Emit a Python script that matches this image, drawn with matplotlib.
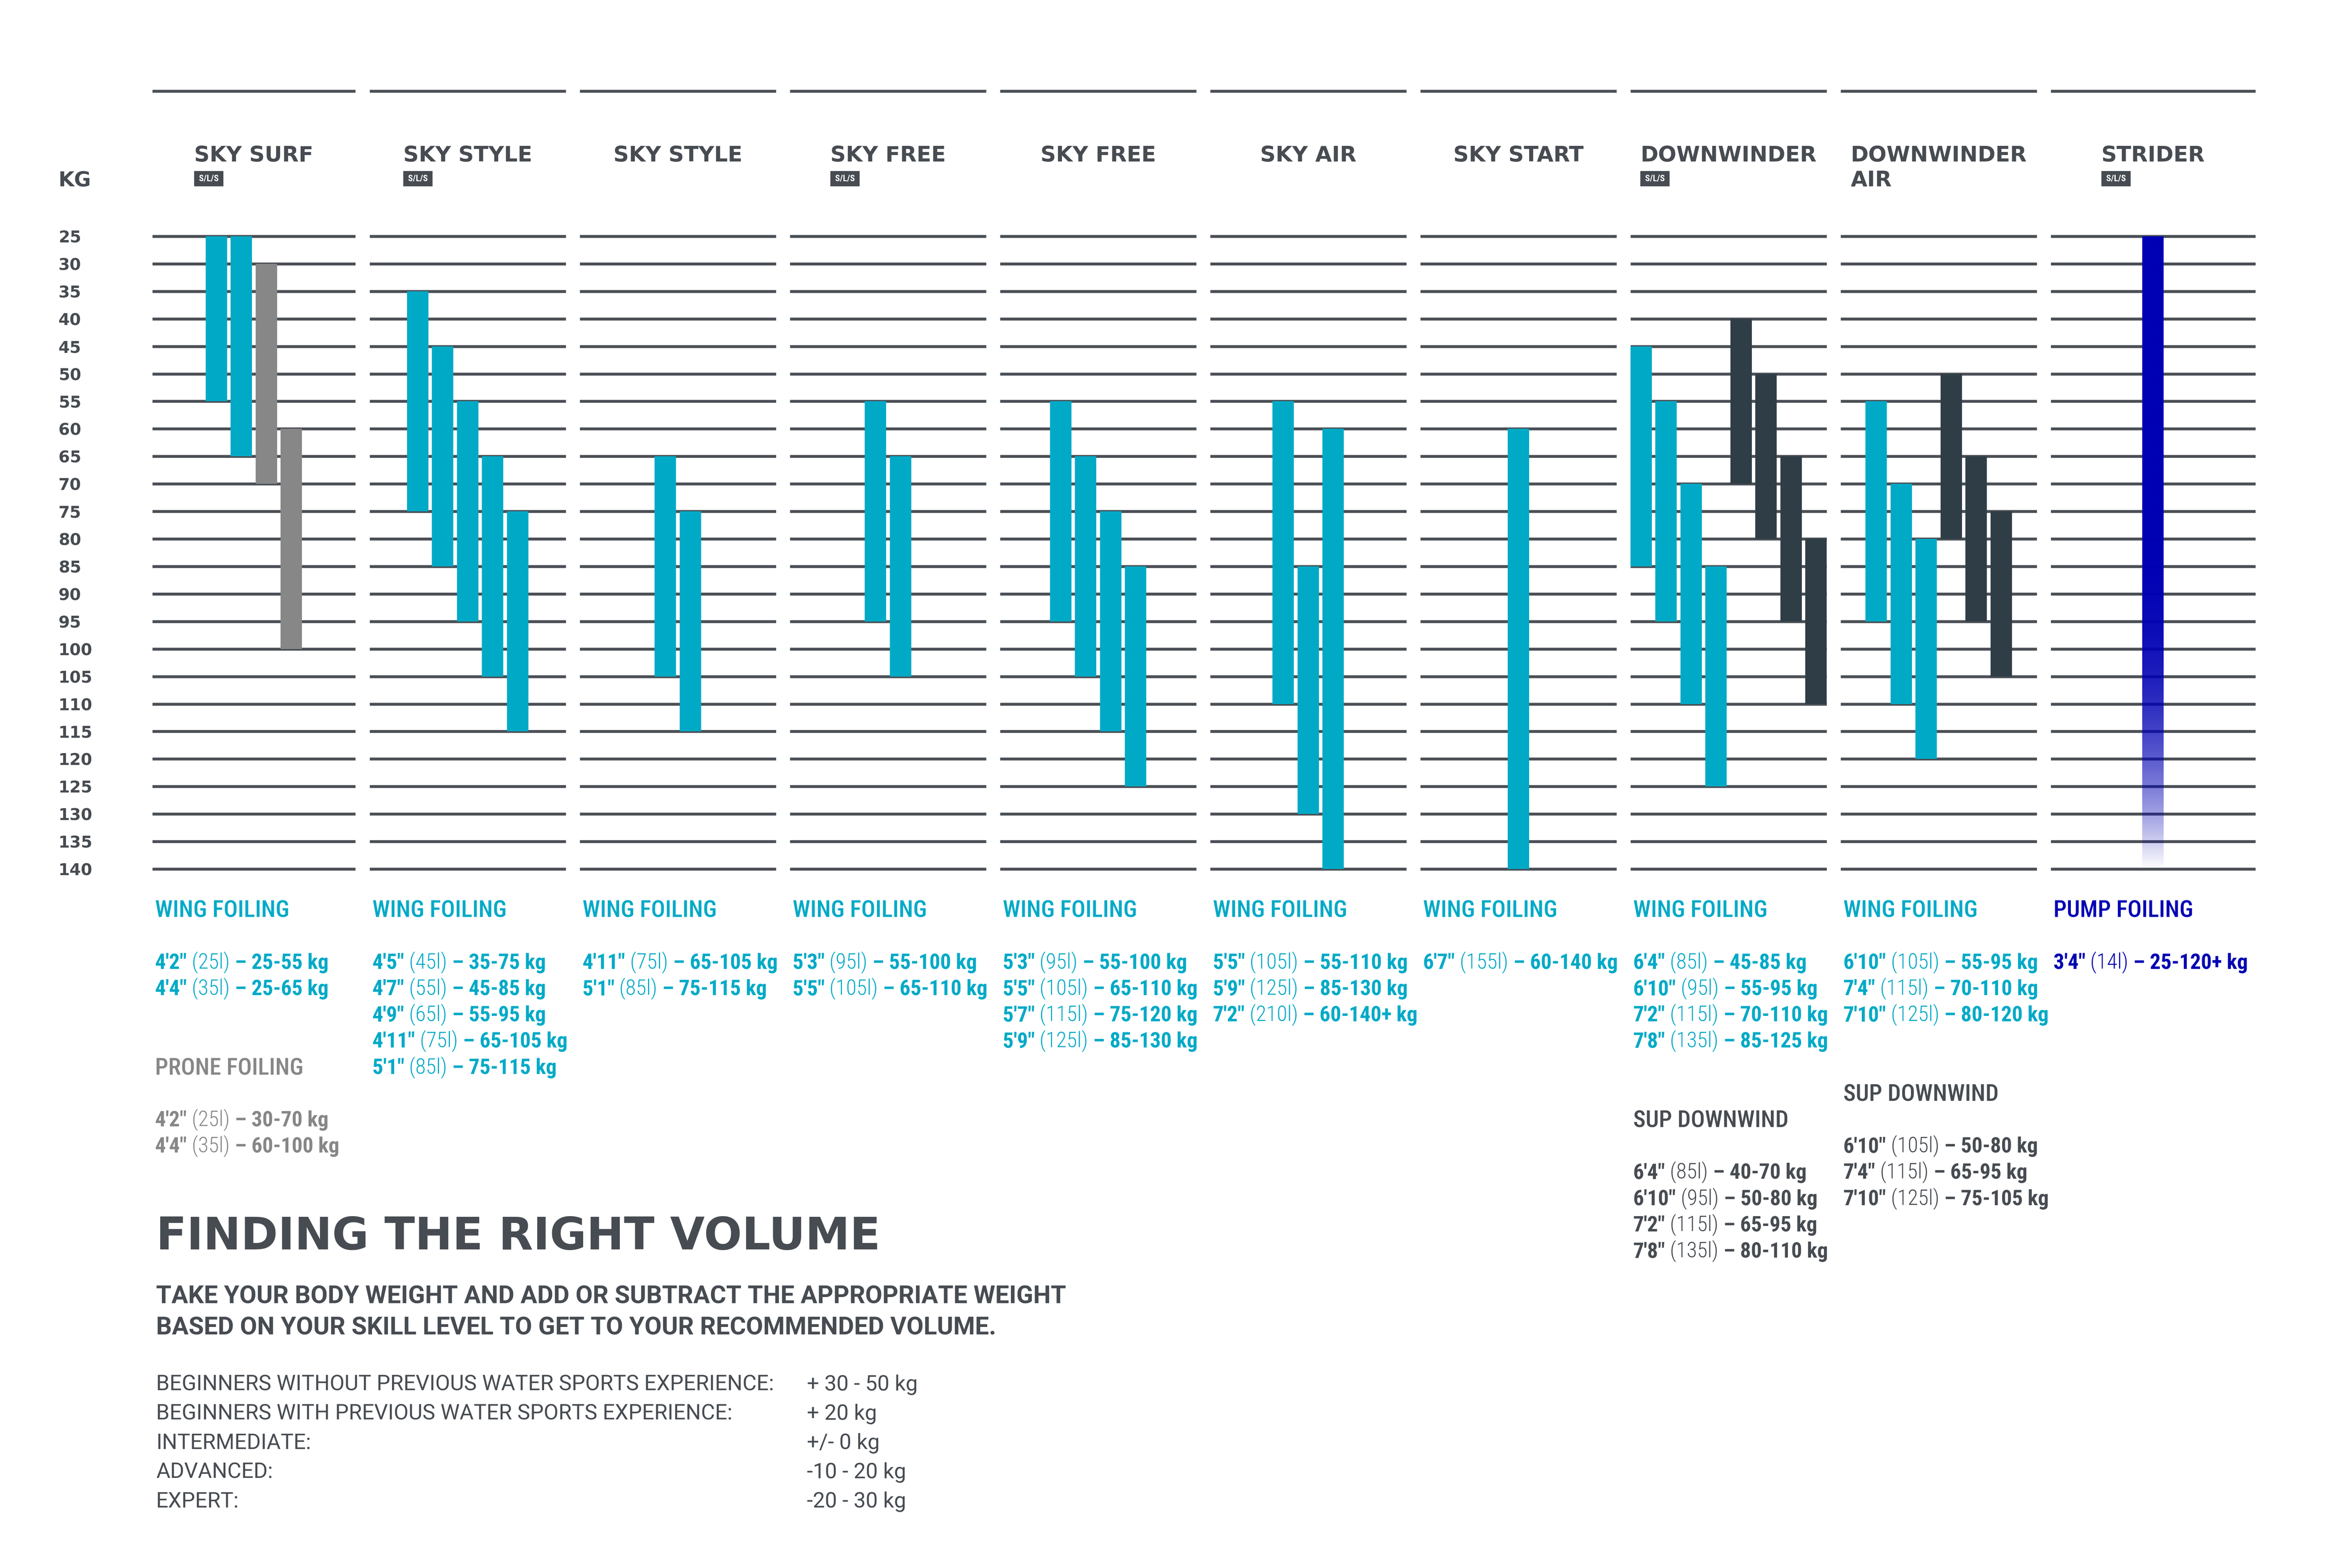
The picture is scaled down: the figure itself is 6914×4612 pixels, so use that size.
"""
Таблица подбора объёма досок: вес райдера (кг) по моделям.
"""

import numpy as np
import matplotlib
matplotlib.use("Agg")
import matplotlib.pyplot as plt
from matplotlib import font_manager
from matplotlib.font_manager import FontProperties
from matplotlib.textpath import TextPath
from matplotlib.patches import Rectangle

# ---------------- данные ----------------
kg_ticks = list(range(25, 145, 5))

board_names = ['SKY SURF', 'SKY STYLE', 'SKY STYLE', 'SKY FREE', 'SKY FREE',
               'SKY AIR', 'SKY START', 'DOWNWINDER', 'DOWNWINDER\nAIR', 'STRIDER']
board_sls = [True, True, False, True, False, False, False, True, False, True]

# столбики: доска, вес от, вес до, дисциплина
bar_board = [0, 0, 0, 0,
             1, 1, 1, 1, 1,
             2, 2,
             3, 3,
             4, 4, 4, 4,
             5, 5, 5,
             6,
             7, 7, 7, 7, 7, 7, 7, 7,
             8, 8, 8, 8, 8, 8,
             9]
bar_min = [25, 25, 30, 60,
           35, 45, 55, 65, 75,
           65, 75,
           55, 65,
           55, 65, 75, 85,
           55, 85, 60,
           60,
           45, 55, 70, 85, 40, 50, 65, 80,
           55, 70, 80, 50, 65, 75,
           25]
bar_max = [55, 65, 70, 100,
           75, 85, 95, 105, 115,
           105, 115,
           95, 105,
           95, 105, 115, 125,
           110, 130, 140,
           140,
           85, 95, 110, 125, 70, 80, 95, 110,
           95, 110, 120, 80, 95, 105,
           140]
bar_use = ['wing', 'wing', 'prone', 'prone',
           'wing', 'wing', 'wing', 'wing', 'wing',
           'wing', 'wing',
           'wing', 'wing',
           'wing', 'wing', 'wing', 'wing',
           'wing', 'wing', 'wing',
           'wing',
           'wing', 'wing', 'wing', 'wing', 'sup', 'sup', 'sup', 'sup',
           'wing', 'wing', 'wing', 'sup', 'sup', 'sup',
           'pump']

# подписи под графиком: доска, заголовок, дисциплина, строки (длина, объём, вес)
sec_board = [0, 1, 2, 3, 4, 5, 6, 7, 8, 9, 0, 7, 8]
sec_title = ['WING FOILING'] * 9 + ['PUMP FOILING', 'PRONE FOILING',
                                    'SUP DOWNWIND', 'SUP DOWNWIND']
sec_use = ['wing'] * 9 + ['pump', 'prone', 'sup', 'sup']
sec_lines = [
    [("4'2\"", '25l', '25-55 kg'), ("4'4\"", '35l', '25-65 kg')],
    [("4'5\"", '45l', '35-75 kg'), ("4'7\"", '55l', '45-85 kg'),
     ("4'9\"", '65l', '55-95 kg'), ("4'11\"", '75l', '65-105 kg'),
     ("5'1\"", '85l', '75-115 kg')],
    [("4'11\"", '75l', '65-105 kg'), ("5'1\"", '85l', '75-115 kg')],
    [("5'3\"", '95l', '55-100 kg'), ("5'5\"", '105l', '65-110 kg')],
    [("5'3\"", '95l', '55-100 kg'), ("5'5\"", '105l', '65-110 kg'),
     ("5'7\"", '115l', '75-120 kg'), ("5'9\"", '125l', '85-130 kg')],
    [("5'5\"", '105l', '55-110 kg'), ("5'9\"", '125l', '85-130 kg'),
     ("7'2\"", '210l', '60-140+ kg')],
    [("6'7\"", '155l', '60-140 kg')],
    [("6'4\"", '85l', '45-85 kg'), ("6'10\"", '95l', '55-95 kg'),
     ("7'2\"", '115l', '70-110 kg'), ("7'8\"", '135l', '85-125 kg')],
    [("6'10\"", '105l', '55-95 kg'), ("7'4\"", '115l', '70-110 kg'),
     ("7'10\"", '125l', '80-120 kg')],
    [("3'4\"", '14l', '25-120+ kg')],
    [("4'2\"", '25l', '30-70 kg'), ("4'4\"", '35l', '60-100 kg')],
    [("6'4\"", '85l', '40-70 kg'), ("6'10\"", '95l', '50-80 kg'),
     ("7'2\"", '115l', '65-95 kg'), ("7'8\"", '135l', '80-110 kg')],
    [("6'10\"", '105l', '50-80 kg'), ("7'4\"", '115l', '65-95 kg'),
     ("7'10\"", '125l', '75-105 kg')],
]

title_text = 'FINDING THE RIGHT VOLUME'
subtitle_lines = ['TAKE YOUR BODY WEIGHT AND ADD OR SUBTRACT THE APPROPRIATE WEIGHT',
                  'BASED ON YOUR SKILL LEVEL TO GET TO YOUR RECOMMENDED VOLUME.']
skill_levels = ['BEGINNERS WITHOUT PREVIOUS WATER SPORTS EXPERIENCE:',
                'BEGINNERS WITH PREVIOUS WATER SPORTS EXPERIENCE:',
                'INTERMEDIATE:', 'ADVANCED:', 'EXPERT:']
skill_adjust = ['+ 30 - 50 kg', '+ 20 kg', '+/- 0 kg', '-10 - 20 kg', '-20 - 30 kg']

# ---------------- оформление ----------------
W, H, DPI = 6914, 4612, 100
C_TEXT = '#474c52'
C_LINE = '#4a4f55'
bar_color = {'wing': '#00aac7', 'prone': '#878787', 'sup': '#2f3d46', 'pump': '#0000b4'}
txt_color = {'wing': '#00aac7', 'prone': '#878787', 'sup': '#474c52', 'pump': '#0000b4'}

KG_TOP, KG_BOT = 695, 2556          # пиксели линий 25 и 140 кг
HEAD_LINE_Y = 268
col_start = [448] + [1087 + 618 * i for i in range(9)]
col_end = [1045] + [1664 + 618 * i for i in range(8)] + [6633]
BAR_W, BAR_STEP = 63, 73.5
LINE_LW = 8.5 * 72 / DPI

installed = {f.name for f in font_manager.fontManager.ttflist}
COND = next((f for f in ['Roboto Condensed', 'Liberation Sans Narrow', 'Roboto']
             if f in installed), 'DejaVu Sans')
MID = 'Roboto' if 'Roboto' in installed else COND
WIDE = 'DejaVu Sans'


def ink(s, family, weight='normal'):
    tp = TextPath((0, 0), s, size=100, prop=FontProperties(family=family, weight=weight))
    e = tp.get_extents()
    return e.width / 100, e.height / 100


def pt(px):
    return px * 72 / DPI


cap_wide = ink('H', WIDE, 'bold')[1]
cap_cond_b = ink('H', COND, 'bold')[1]
cap_cond_m = ink('H', COND, 'medium')[1]
cap_mid_b = ink('H', MID, 'bold')[1]
cap_mid = ink('H', MID, 'normal')[1]

all_lines = [f'{a} ({b}) – {c}' for sec in sec_lines for a, b, c in sec]
line_px = min(48 / cap_cond_b, 610 / max(ink(s, COND, 'bold')[0] for s in all_lines))
sec_px = min(49 / cap_cond_m, 392 / ink('WING FOILING', COND, 'medium')[0])
head_px = min(46 / cap_wide, 556 / ink('DOWNWINDER', WIDE, 'bold')[0])
tick_px = 35 / cap_wide
kg_px = 44 / cap_wide
big_px = 2108 / ink(title_text, WIDE, 'bold')[0]
sub_px = min(52 / cap_mid_b, 2672 / ink(subtitle_lines[0], MID, 'bold')[0])
row_px = min(48 / cap_mid, 1808 / ink(skill_levels[0], MID, 'normal')[0])

fig = plt.figure(figsize=(W / DPI, H / DPI), dpi=DPI)
fig.patch.set_facecolor('white')

lay = fig.add_axes([0, 0, 1, 1])
lay.set_xlim(0, W)
lay.set_ylim(H, 0)
lay.axis('off')

ax = fig.add_axes([0, 1 - KG_BOT / H, 1, (KG_BOT - KG_TOP) / H])
ax.axis('off')

# верхние линии и сетка по весу
lay.hlines([HEAD_LINE_Y] * 10, col_start, col_end, color=C_LINE, lw=LINE_LW,
           capstyle='butt')
for b in range(10):
    ax.hlines(kg_ticks, col_start[b], col_end[b], color=C_LINE, lw=LINE_LW,
              capstyle='butt', zorder=1, clip_on=False)

# столбики
bar_board = np.array(bar_board)
for i in range(len(bar_board)):
    b = bar_board[i]
    idx = np.where(bar_board == b)[0]
    j = list(idx).index(i)
    cx = (col_start[b] + col_end[b]) / 2 + (j - (len(idx) - 1) / 2) * BAR_STEP
    if bar_use[i] == 'pump':
        # градиент, уходящий в прозрачность к нижнему краю
        kg = np.linspace(bar_min[i], bar_max[i], 600)
        t = np.clip((kg - 75) / (bar_max[i] - 75), 0, 1)
        alpha = 1 - t ** 2.8
        rgba = np.zeros((600, 1, 4))
        rgba[:, 0, :3] = matplotlib.colors.to_rgb(bar_color['pump'])
        rgba[:, 0, 3] = alpha
        ax.imshow(rgba, extent=(cx - BAR_W / 2, cx + BAR_W / 2, bar_max[i], bar_min[i]),
                  origin='upper', aspect='auto', interpolation='bilinear', zorder=3)
    else:
        ax.bar(cx, bar_max[i] - bar_min[i], bottom=bar_min[i], width=BAR_W,
               color=bar_color[bar_use[i]], linewidth=0, zorder=2)

ax.set_xlim(0, W)
ax.set_ylim(140, 25)

# шкала КГ
lay.text(172, 548, 'KG', fontsize=pt(kg_px), family=WIDE, weight='bold', color=C_TEXT,
         va='baseline', ha='left')
for k in kg_ticks:
    ax.text(172, k, str(k), fontsize=pt(tick_px), family=WIDE, weight='bold',
            color=C_TEXT, va='center_baseline', ha='left')

# названия досок (первая строка по центру колонки, остальные выровнены по её левому краю)
titles = []
for b in range(10):
    cx = (col_start[b] + col_end[b]) / 2
    first = board_names[b].split('\n')[0]
    titles.append(lay.text(cx, 475, first, fontsize=pt(head_px), family=WIDE,
                           weight='bold', color=C_TEXT, ha='center', va='baseline'))

# подписи размеров
PITCH = 77.2
y_cursor = {b: 2672 for b in range(10)}
for s in range(len(sec_board)):
    b = sec_board[s]
    x = col_start[b] + 8
    col = txt_color[sec_use[s]]
    y = y_cursor[b]
    lay.text(x, y, sec_title[s], fontsize=pt(sec_px), family=COND, weight='medium',
             color=col, va='center_baseline', ha='left')
    y += 2 * PITCH
    for length, vol, rng in sec_lines[s]:
        t1 = lay.text(x, y, length, fontsize=pt(line_px), family=COND, weight='bold',
                      color=col, va='center_baseline', ha='left')
        t2 = lay.annotate(f' ({vol})', xy=(1, 0), xycoords=t1, fontsize=pt(line_px),
                          family=COND, weight='light', color=col, va='bottom', ha='left')
        lay.annotate(f' – {rng}', xy=(1, 0), xycoords=t2, fontsize=pt(line_px),
                     family=COND, weight='bold', color=col, va='bottom', ha='left')
        y += PITCH
    y_cursor[b] = y - PITCH + 3 * PITCH

# блок с пояснением
lay.text(459, 3625, title_text, fontsize=pt(big_px), family=WIDE, weight='bold',
         color=C_TEXT, va='center_baseline', ha='left')
for i, line in enumerate(subtitle_lines):
    lay.text(459, 3806 + i * 92, line, fontsize=pt(sub_px), family=MID, weight='bold',
             color=C_TEXT, va='center_baseline', ha='left')
for i, (lvl, adj) in enumerate(zip(skill_levels, skill_adjust)):
    y = 4066 + i * 86
    lay.text(459, y, lvl, fontsize=pt(row_px), family=MID, color=C_TEXT,
             va='center_baseline', ha='left')
    lay.text(2373, y, adj, fontsize=pt(row_px), family=MID, color=C_TEXT,
             va='center_baseline', ha='left')

# вторая строка названий и значки S/L/S
fig.canvas.draw()
inv = lay.transData.inverted()
for b in range(10):
    bb = titles[b].get_window_extent()
    x0 = inv.transform((bb.x0, bb.y0))[0]
    for k, extra in enumerate(board_names[b].split('\n')[1:], start=1):
        lay.text(x0, 475 + k * 73, extra, fontsize=pt(head_px), family=WIDE,
                 weight='bold', color=C_TEXT, ha='left', va='baseline')
    if board_sls[b]:
        lay.add_patch(Rectangle((x0, 503), 86, 45, facecolor=C_TEXT, edgecolor='none'))
        lay.text(x0 + 43, 526, 'S/L/S', fontsize=pt(26), family=COND, weight='bold',
                 color='white', ha='center', va='center')

fig.savefig('out.png', dpi=DPI, facecolor='white')
